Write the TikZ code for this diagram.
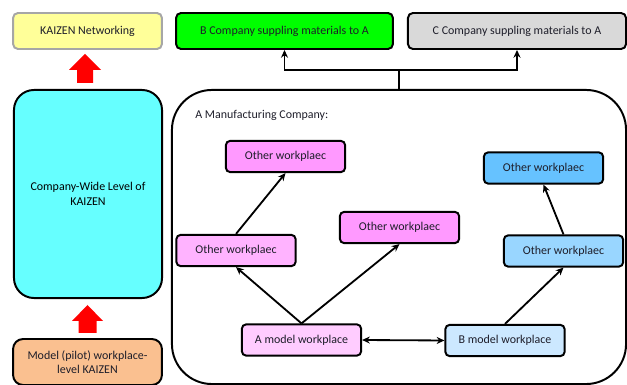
\documentclass[tikz,border=0pt]{standalone}
\usepackage{fontspec}
\setmainfont{Carlito}
\usepackage{xcolor}
\usetikzlibrary{arrows.meta, positioning}
\definecolor{netyellow}{HTML}{FFFF99}
\definecolor{netgray}{HTML}{A6A6A6}
\definecolor{bgreen}{HTML}{00FF00}
\definecolor{cgray}{HTML}{D9D9D9}
\definecolor{widecyan}{HTML}{66FFFF}
\definecolor{pilotorange}{HTML}{FAC090}
\definecolor{pinkdark}{HTML}{FF99FF}
\definecolor{pinkmid}{HTML}{FFB3FF}
\definecolor{pinklight}{HTML}{FFCCFF}
\definecolor{bluedark}{HTML}{66C2FF}
\definecolor{bluemid}{HTML}{99D6FF}
\definecolor{bluelight}{HTML}{CCE8FF}
\definecolor{txt}{HTML}{1E1E2A}

\begin{document}
\begin{tikzpicture}[
    x=0.025cm, y=-0.025cm,
    font=\fontsize{8.5}{10}\selectfont\color{txt},
    topbox/.style={rectangle, draw=black, line width=1.4pt, minimum height=0.9cm, align=center, rounded corners=3.5pt, inner sep=0pt},
    wpbox/.style={rectangle, draw=black, line width=1.4pt, minimum width=2.98cm, minimum height=0.78cm, align=center, rounded corners=3pt, inner sep=0pt},
    arr/.style={-{Stealth[length=5.5pt, width=5pt]}, line width=1.3pt},
    dblarr/.style={{Stealth[length=5.5pt, width=5pt]}-{Stealth[length=5.5pt, width=5pt]}, line width=1.3pt}
]
\useasboundingbox (0,0) rectangle (627,385);

% Top row
\node[topbox, fill=netyellow, draw=netgray, minimum width=3.72cm] (network) at (87.5,31) {KAIZEN Networking};
\node[topbox, fill=bgreen, minimum width=5.42cm] (bcomp) at (284.5,31) {B Company suppling materials to A};
\node[topbox, fill=cgray, minimum width=5.45cm] (ccomp) at (517,31) {C Company suppling materials to A};

% Left column
\node[rectangle, draw=black, line width=1.4pt, fill=widecyan, rounded corners=0.5cm, minimum width=3.7cm, minimum height=5.2cm, align=center, font=\fontsize{8.5}{11}\selectfont] (wide) at (88,194) {Company-Wide Level of\\KAIZEN};
\node[rectangle, draw=black, line width=1.4pt, fill=pilotorange, rounded corners=0.25cm, minimum width=3.72cm, minimum height=1.15cm, align=center] (pilot) at (87.5,362) {Model (pilot) workplace-\\level KAIZEN};

% Red block arrows
\fill[red] (77,83) -- (77,70) -- (69,70) -- (85,54) -- (101,70) -- (93,70) -- (93,83) -- cycle;
\fill[red] (78.5,333) -- (78.5,321) -- (72,321) -- (87.5,305) -- (103,321) -- (96.5,321) -- (96.5,333) -- cycle;

% A Manufacturing Company
\node[rectangle, draw=black, line width=1.4pt, rounded corners=1cm, minimum width=11.35cm, minimum height=7.35cm] (company) at (399,237) {};
\node[anchor=west, inner sep=0pt] (companylabel) at (195,115) {A Manufacturing Company:};

% Workplaces
\node[wpbox, fill=pinkdark] (otop) at (285.5,156.5) {Other workplaec};
\node[wpbox, fill=pinkmid] (oleft) at (236,250.5) {Other workplaec};
\node[wpbox, fill=pinkdark] (ocenter) at (399.5,227.5) {Other workplaec};
\node[wpbox, fill=pinklight] (amodel) at (301.5,340) {A model workplace};
\node[wpbox, fill=bluelight] (bmodel) at (505,340.5) {B model workplace};
\node[wpbox, fill=bluemid] (oright) at (563.5,251) {Other workplaec};
\node[wpbox, fill=bluedark] (orighttop) at (543.5,168) {Other workplaec};

% Arrows
\coordinate (join) at (company.north |- 0,70);
\draw[line width=1.3pt] (company.north) -- (join);
\draw[arr] (join) -| (bcomp.south);
\draw[arr] (join) -| (ccomp.south);
\draw[arr] (amodel.north) -- (oleft.south);
\draw[arr] (amodel.north) -- (ocenter.south);
\draw[arr] (oleft.north) -- (otop.south);
\draw[dblarr] (amodel.east) -- (bmodel.west);
\draw[arr] (bmodel.north) -- (oright.south);
\draw[arr] (oright.north) -- (orighttop.south);

\end{tikzpicture}
\end{document}
